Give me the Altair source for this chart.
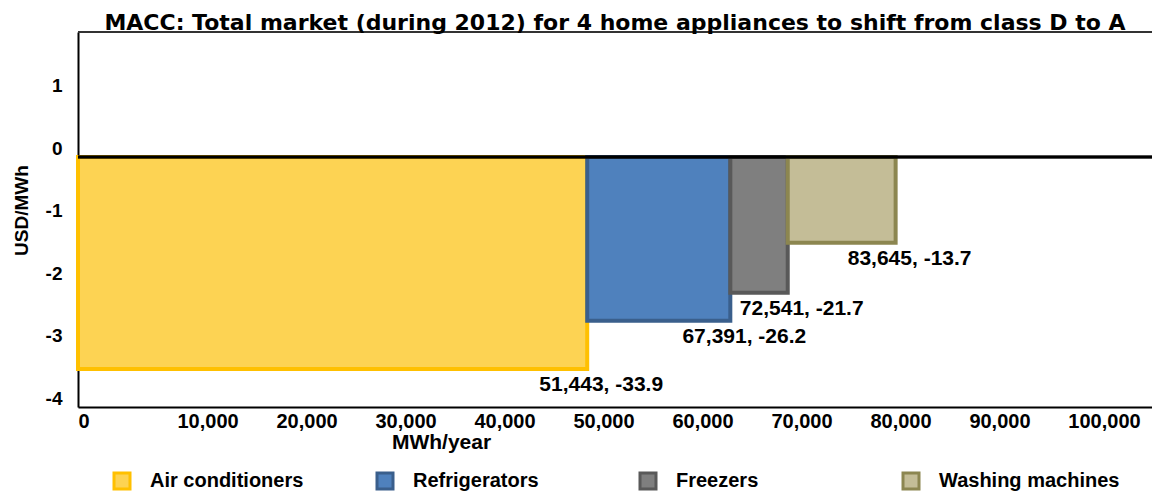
import altair as alt
import pandas as pd

# ---- data ----
appliances = ["Air conditioners", "Refrigerators", "Freezers", "Washing machines"]
x_start = [0, 51443, 65900, 71700]          # MWh/year, cumulative start of each block
x_end = [51443, 65900, 71700, 82600]        # MWh/year, cumulative end of each block
cost = [-33.9, -26.2, -21.7, -13.7]         # USD/MWh
label_text = ["51,443, -33.9", "67,391, -26.2", "72,541, -21.7", "83,645, -13.7"]
fill_colors = ["#FDD353", "#4F81BD", "#7F7F7F", "#C4BD97"]
stroke_colors = ["#FFC000", "#3A5F8C", "#595959", "#8C8650"]
x_ticks = [0, 10000, 20000, 30000, 40000, 50000, 60000, 70000, 80000, 90000, 100000]
y_ticks = [-40, -30, -20, -10, 0, 10]

df = pd.DataFrame({
    "appliance": appliances,
    "x0": x_start,
    "x1": x_end,
    "cost": cost,
    "label": label_text,
})

FONT = "Liberation Sans"
xs = alt.Scale(domain=[0, 108500], nice=False, zero=False)
ys = alt.Scale(domain=[-40, 20], nice=False, zero=False)

legend = alt.Legend(
    title=None, orient="none", legendX=34, legendY=439, direction="horizontal",
    columns=4, gridAlign="all", columnPadding=40, padding=0,
    symbolType="square", symbolSize=256, symbolStrokeWidth=3,
    labelFont=FONT, labelFontSize=20, labelFontWeight="bold", labelColor="black",
    labelOffset=18, labelLimit=300,
)

bars = alt.Chart(df).mark_rect(strokeWidth=4).encode(
    x=alt.X("x0:Q", scale=xs, axis=alt.Axis(
        values=x_ticks, labelExpr="format(datum.value, ',d')", title="MWh/year", labelAlign="left",
        labelPadding=4, ticks=False, tickSize=0, grid=False,
        domainColor="black", domainWidth=2,
        labelFont=FONT, labelFontSize=20, labelFontWeight="bold", labelColor="black",
        titleFont=FONT, titleFontSize=21, titleFontWeight="bold", titleColor="black",
        titleX=363, titleY=35, titleBaseline="middle", titleAlign="center",
    )),
    x2="x1:Q",
    y=alt.Y("cost:Q", scale=ys, axis=alt.Axis(
        values=y_ticks, labelExpr="datum.value / 10", title="USD/MWh",
        ticks=False, tickSize=0, grid=False, labelPadding=16, labelOffset=-9,
        domainColor="black", domainWidth=2,
        labelFont=FONT, labelFontSize=19, labelFontWeight="bold", labelColor="black",
        titleFont=FONT, titleFontSize=19, titleFontWeight="bold", titleColor="black",
        titleX=-57, titleY=178, titleAngle=270, titleAlign="center", titleBaseline="middle",
    )),
    y2=alt.datum(0),
    fill=alt.Fill("appliance:N", scale=alt.Scale(domain=appliances, range=fill_colors), legend=legend),
    stroke=alt.Stroke("appliance:N", scale=alt.Scale(domain=appliances, range=stroke_colors), legend=legend),
)

labels = alt.Chart(df).mark_text(
    align="center", baseline="middle", dx=14, dy=16,
    font=FONT, fontSize=21, fontWeight="bold", color="black",
).encode(x=alt.X("x1:Q", scale=xs), y=alt.Y("cost:Q", scale=ys), text="label:N")

zero_line = alt.Chart(df).mark_rule(color="black", strokeWidth=2.5).encode(y=alt.datum(0))
top_line = alt.Chart(df).mark_rule(color="#333333", strokeWidth=2).encode(y=alt.datum(20))

chart = alt.layer(bars, zero_line, top_line, labels).properties(
    width=1074, height=375,
    autosize=alt.AutoSizeParams(type="none"),
    padding={"left": 78, "top": 32, "right": 0, "bottom": 86},
    title=alt.Title(
        "MACC: Total market (during 2012) for 4 home appliances to shift from class D to A",
        font="DejaVu Sans", fontSize=22, fontWeight="bold", color="black",
        anchor="middle", offset=4, baseline="alphabetic", dy=25,
    ),
).configure_view(stroke=None).configure(background="white")

chart.save("out.html", embed_options={"renderer": "svg", "actions": False})
